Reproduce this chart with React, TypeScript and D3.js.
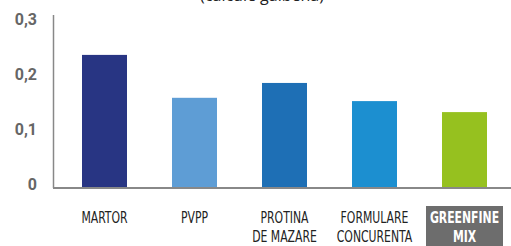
import React from 'react';
import { scaleBand, scaleLinear } from 'd3';

const categories = ['MARTOR', 'PVPP', 'PROTINA\nDE MAZARE', 'FORMULARE\nCONCURENTA', 'GREENFINE\nMIX'];
const values = [0.242, 0.164, 0.191, 0.158, 0.138];
const colors = ['#283583', '#5e9dd5', '#1e6fb5', '#1c8fd0', '#96c11f'];
const yTicks = [0, 0.1, 0.2, 0.3];
const tickLabels = ['0', '0,1', '0,2', '0,3'];

const W = 511;
const H = 246;

function App() {
  const x = scaleBand<string>().domain(categories).range([59.5, 509.5]).paddingInner(0.5).paddingOuter(0.25);
  const y = scaleLinear().domain([0, 0.3]).range([188, 23]);
  const base = y(0);

  return (
    <svg width={W} height={H} style={{ position: 'absolute', left: 0, top: 0 }}>
      <text x={262} y={1} textAnchor="middle" fontFamily="Open Sans, sans-serif" fontSize={16} fill="#222">
        (calcule galbena)
      </text>

      {categories.map((c, i) => (
        <rect key={c} x={x(c)} y={y(values[i])} width={x.bandwidth()} height={base - y(values[i])} fill={colors[i]} />
      ))}

      <line x1={53.5} x2={53.5} y1={15} y2={base} stroke="#888" strokeWidth={1.5} />
      <line x1={53} x2={W} y1={base} y2={base} stroke="#888" strokeWidth={2} />

      {yTicks.map((t, i) => (
        <text
          key={t}
          x={37}
          y={y(t) + 1.5}
          textAnchor="end"
          fontFamily="Roboto, sans-serif"
          fontWeight="bold"
          fontSize={16}
          fill="#666"
        >
          {tickLabels[i]}
        </text>
      ))}

      {categories.map((c, i) => {
        const cx = (x(c) ?? 0) + x.bandwidth() / 2;
        const lines = c.split('\n');
        const last = i === categories.length - 1;
        return (
          <g key={c} transform={`translate(${cx},0)`}>
            {last && <rect x={-38.5} y={206} width={77} height={40} fill="#6d6d6d" />}
            {lines.map((l, j) => (
              <text
                key={l}
                x={0}
                y={223.5 + j * 19}
                textAnchor="middle"
                fontFamily="Liberation Sans Narrow, DejaVu Sans Condensed, sans-serif"
                fontWeight={last ? 'bold' : 'normal'}
                fontSize={15.5}
                fill={last ? '#fff' : '#222'}
                transform="scale(0.78,1)"
              >
                {l}
              </text>
            ))}
          </g>
        );
      })}
    </svg>
  );
}

export default App;
